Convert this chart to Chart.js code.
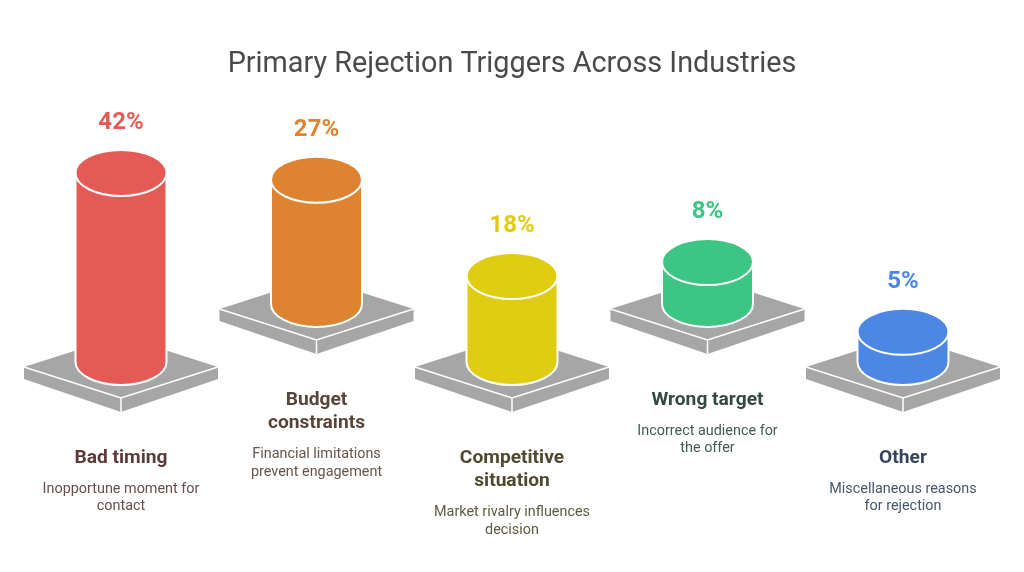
<!DOCTYPE html>
<html>
<head>
<meta charset="utf-8">
<style>html,body{margin:0;padding:0;background:#fff}canvas{display:block}</style>
<script src="https://cdn.jsdelivr.net/npm/chart.js@4/dist/chart.umd.min.js"></script>
</head>
<body>
<canvas id="c" width="1024" height="572" style="width:1024px;height:572px"></canvas>
<script>
const chartTitle = "Primary Rejection Triggers Across Industries";
const categories = ["Bad timing", "Budget constraints", "Competitive situation", "Wrong target", "Other"];
const categoryLines = [["Bad timing"], ["Budget", "constraints"], ["Competitive", "situation"], ["Wrong target"], ["Other"]];
const descriptionLines = [
  ["Inopportune moment for", "contact"],
  ["Financial limitations", "prevent engagement"],
  ["Market rivalry influences", "decision"],
  ["Incorrect audience for", "the offer"],
  ["Miscellaneous reasons", "for rejection"]
];
const percentLabels = ["42%", "27%", "18%", "8%", "5%"];
const baseLevels = [0, 12.9, 0, 12.9, 0];
const topLevels = [42, 40.5, 19.1, 22.2, 6.7];
const barColors = ["#e55a54", "#de8431", "#e0cd12", "#3cc583", "#4c87e5"];
const titleColors = ["#5a3a3a", "#58453a", "#4f4a2e", "#33483f", "#34435e"];
const descColors = ["#6a4c4c", "#665549", "#5e5a40", "#465a52", "#465570"];

const RX = 45.5, RY = 23;
const cylinderPlugin = {
  id: "cylinders",
  beforeDatasetsDraw(chart) {
    const ctx = chart.ctx;
    chart.getDatasetMeta(0).data.forEach(bar => {
      const cx = bar.x, cy = bar.base + 5, hw = 97, hh = 31, d = 14;
      ctx.save();
      ctx.fillStyle = "#a6a6a6";
      ctx.beginPath();
      ctx.moveTo(cx - hw, cy); ctx.lineTo(cx, cy - hh); ctx.lineTo(cx + hw, cy);
      ctx.lineTo(cx + hw, cy + d - 2); ctx.lineTo(cx, cy + hh + d); ctx.lineTo(cx - hw, cy + d - 2);
      ctx.closePath(); ctx.fill();
      ctx.strokeStyle = "#fff"; ctx.lineWidth = 1.5;
      ctx.beginPath();
      ctx.moveTo(cx - hw, cy); ctx.lineTo(cx, cy + hh); ctx.lineTo(cx + hw, cy);
      ctx.moveTo(cx, cy + hh); ctx.lineTo(cx, cy + hh + d);
      ctx.stroke();
      ctx.restore();
    });
  },
  afterDatasetsDraw(chart) {
    const ctx = chart.ctx;
    chart.getDatasetMeta(0).data.forEach((bar, i) => {
      const x = bar.x, top = bar.y, base = bar.base;
      ctx.save();
      ctx.fillStyle = barColors[i];
      ctx.strokeStyle = "#fff";
      ctx.lineWidth = 2;
      ctx.beginPath();
      ctx.moveTo(x - RX, top);
      ctx.lineTo(x - RX, base);
      ctx.ellipse(x, base, RX, RY, 0, Math.PI, 0, true);
      ctx.lineTo(x + RX, top);
      ctx.closePath();
      ctx.fill(); ctx.stroke();
      ctx.beginPath();
      ctx.ellipse(x, top, RX, RY, 0, 0, Math.PI * 2);
      ctx.fill(); ctx.stroke();
      ctx.restore();

      ctx.save();
      ctx.textAlign = "center";
      ctx.textBaseline = "middle";
      ctx.fillStyle = barColors[i];
      ctx.font = "700 24px Roboto";
      ctx.fillText(percentLabels[i], x, top - 50);
      let y = base + 96;
      ctx.fillStyle = titleColors[i];
      ctx.font = "700 19.2px Roboto";
      categoryLines[i].forEach((line, k) => { if (k) y += 23.5; ctx.fillText(line, x, y); });
      y += 31;
      ctx.fillStyle = descColors[i];
      ctx.font = "400 14.4px Roboto";
      descriptionLines[i].forEach((line, k) => { if (k) y += 17.5; ctx.fillText(line, x, y); });
      ctx.restore();
    });
  }
};

new Chart(document.getElementById("c"), {
  type: "bar",
  data: {
    labels: categories,
    datasets: [{
      data: categories.map((_, i) => [baseLevels[i], topLevels[i] ]),
      backgroundColor: barColors,
      borderWidth: 0,
      barThickness: 90
    }]
  },
  options: {
    responsive: false,
    animation: false,
    devicePixelRatio: 1,
    layout: { padding: { left: 23.25, right: 23.25, top: 0, bottom: 0 } },
    plugins: {
      legend: { display: false },
      tooltip: { enabled: false },
      title: {
        display: true,
        text: chartTitle,
        color: "#4a4a4a",
        font: { family: "Roboto", size: 28.8, weight: "400", lineHeight: 1.2 },
        padding: { top: 48, bottom: 16.04 }
      }
    },
    scales: {
      x: { display: false },
      y: { display: false, min: -46.67, max: 58.53 }
    }
  },
  plugins: [cylinderPlugin]
});
</script>
</body>
</html>
